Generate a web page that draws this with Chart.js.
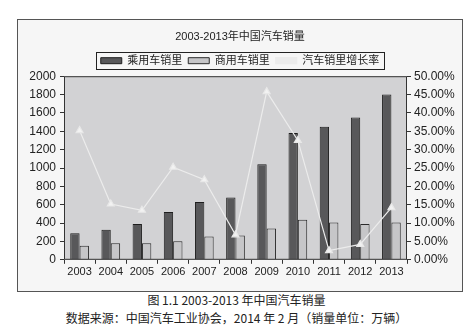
<!DOCTYPE html>
<html lang="zh">
  <head>
    <meta charset="UTF-8" />
    <script src="https://cdn.jsdelivr.net/npm/chart.js"></script>
    <title>2003-2013年中国汽车销量</title>
    <style>
      body { margin: 0; background: #fff; width: 473px; height: 335px; position: relative; overflow: hidden; }
      #box { position: absolute; left: 17px; top: 19px; width: 444px; height: 271px; border: 1px solid #555; background: #f6f6f6; }
      .cap { position: absolute; left: 0; width: 473px; text-align: center; font-family: "Noto Sans CJK SC", sans-serif; font-size: 12px; color: #222; }
    </style>
  </head>
  <body>
    <div id="box"><canvas id="myChart" width="444" height="271"></canvas></div>
    <div class="cap" style="top: 291px;">图 1.1 2003-2013 年中国汽车销量</div>
    <div class="cap" style="top: 309px;">数据来源：中国汽车工业协会，2014 年 2 月（销量单位：万辆）</div>
    <script>
      // data (万辆, growth as fraction)
      var years = ["2003", "2004", "2005", "2006", "2007", "2008", "2009", "2010", "2011", "2012", "2013"];
      var chengyong = [290, 326, 391, 520, 630, 680, 1040, 1380, 1450, 1550, 1800];
      var shangyong = [152, 180, 180, 202, 255, 265, 340, 435, 405, 390, 405];
      var zengzhang = [0.352, 0.152, 0.135, 0.252, 0.218, 0.068, 0.458, 0.325, 0.025, 0.042, 0.142];

      var cjk = "'Liberation Sans', 'Noto Sans CJK SC', sans-serif";

      // grey plot background and border, box round the legend
      var frame = {
        id: "frame",
        beforeDraw: function (chart) {
          var a = chart.chartArea, c = chart.ctx;
          c.save();
          c.fillStyle = "#d2d2d4";
          c.fillRect(a.left, a.top, a.right - a.left, a.bottom - a.top);
          c.restore();
        },
        afterDraw: function (chart) {
          var a = chart.chartArea, c = chart.ctx;
          c.save();
          c.strokeStyle = "#333";
          c.lineWidth = 1;
          c.strokeRect(a.left + 0.5, a.top + 0.5, a.right - a.left - 1, a.bottom - a.top - 1);
          var hb = chart.legend.legendHitBoxes;
          if (hb && hb.length) {
            var l = hb[0].left - 5, r = hb[hb.length - 1].left + hb[hb.length - 1].width + 5;
            var t = hb[0].top - 3, b = hb[0].top + hb[0].height + 3;
            c.strokeStyle = "#222";
            c.strokeRect(Math.round(l) + 0.5, Math.round(t) + 0.5, Math.round(r - l), Math.round(b - t));
          }
          c.restore();
        },
      };

      var ctx = document.getElementById("myChart");
      var myChart = new Chart(ctx, {
        type: "bar",
        data: {
          labels: years,
          datasets: [
            {
              label: "乘用车销里",
              data: chengyong,
              backgroundColor: "#58585a",
              borderColor: "#1e1e1e",
              borderWidth: 1,
              yAxisID: "y",
              order: 2,
            },
            {
              label: "商用车销里",
              data: shangyong,
              backgroundColor: "#c6c6c8",
              borderColor: "#2a2a2a",
              borderWidth: 1,
              yAxisID: "y",
              order: 2,
            },
            {
              type: "line",
              label: "汽车销里增长率",
              data: zengzhang,
              borderColor: "#ececec",
              backgroundColor: "#ececec",
              borderWidth: 1.2,
              pointStyle: "triangle",
              pointRadius: 4,
              pointBackgroundColor: "#f2f2f2",
              pointBorderColor: "#e8e8e8",
              tension: 0,
              yAxisID: "y1",
              order: 1,
            },
          ],
        },
        options: {
          responsive: false,
          animation: false,
          layout: { padding: { left: 0, right: 0, top: 0, bottom: 10 } },
          datasets: { bar: { categoryPercentage: 0.6, barPercentage: 1.0 } },
          plugins: {
            title: {
              display: true,
              text: "2003-2013年中国汽车销量",
              color: "#222",
              font: { family: cjk, size: 11, weight: "normal" },
              padding: { top: 10, bottom: 6 },
            },
            legend: {
              display: true,
              labels: {
                color: "#222",
                font: { family: cjk, size: 11 },
                boxWidth: 21,
                boxHeight: 6,
                padding: 6,
                sort: function (a, b) { return a.datasetIndex - b.datasetIndex; },
              },
            },
            tooltip: { enabled: false },
          },
          scales: {
            x: {
              grid: { display: true, drawOnChartArea: false, offset: true, tickLength: 4, color: "#333" },
              border: { display: false },
              ticks: { color: "#222", font: { family: cjk, size: 11 }, maxRotation: 0, padding: 2 },
            },
            y: {
              position: "left",
              min: 0,
              max: 2000,
              afterFit: function (s) { s.width = 46; },
              grid: { display: true, drawOnChartArea: false, tickLength: 4, color: "#333" },
              border: { display: false },
              ticks: {
                stepSize: 200,
                color: "#222",
                font: { family: cjk, size: 12 },
                padding: 4,
                callback: function (v) { return String(v); },
              },
            },
            y1: {
              position: "right",
              min: 0,
              max: 0.5,
              afterFit: function (s) { s.width = 55; },
              grid: { display: true, drawOnChartArea: false, tickLength: 4, color: "#333" },
              border: { display: false },
              ticks: {
                stepSize: 0.05,
                color: "#222",
                font: { family: cjk, size: 12 },
                padding: 3,
                callback: function (v) { return (v * 100).toFixed(2) + "%"; },
              },
            },
          },
        },
        plugins: [frame],
      });
    </script>
  </body>
</html>
